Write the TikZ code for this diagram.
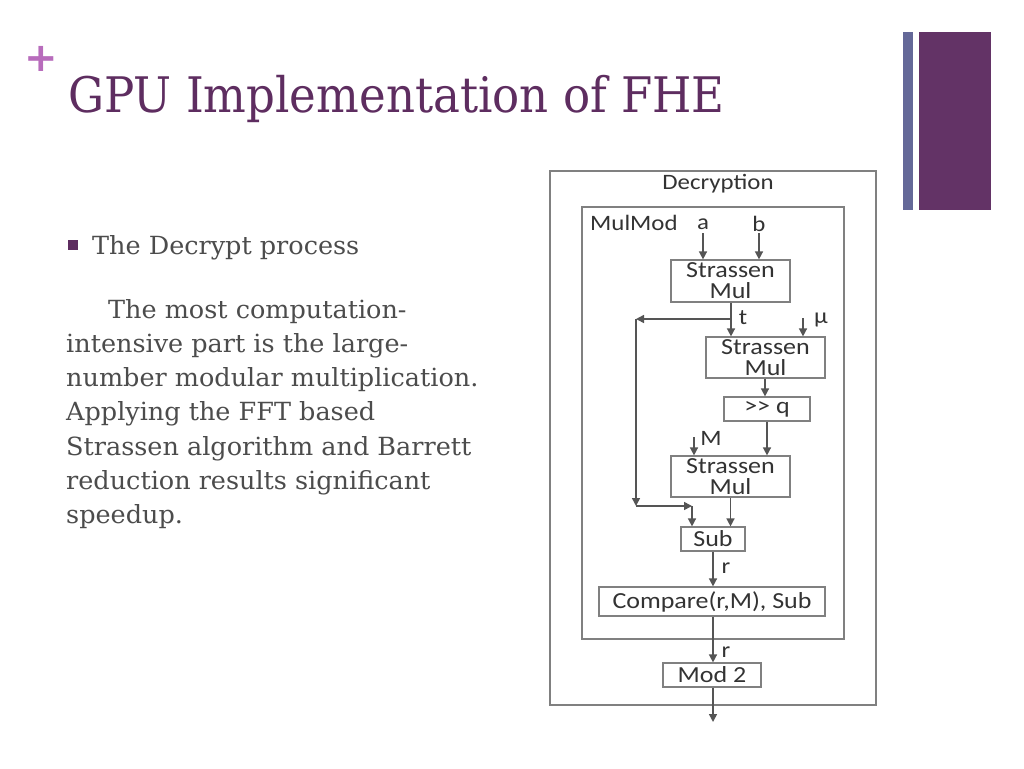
\documentclass[tikz,border=0pt]{standalone}
\usepackage{fontspec}
\usepackage{xcolor}
\usetikzlibrary{arrows.meta,positioning}
\newfontfamily\slidefont[FakeStretch=1.02]{DejaVu Serif}
\newfontfamily\titlefont[FakeStretch=0.92]{DejaVu Serif}
\newfontfamily\plusfont{DejaVu Sans}
\newfontfamily\diagfont[FakeStretch=1.13]{Carlito}
\definecolor{titlepurple}{HTML}{5E2D60}
\definecolor{blockpurple}{HTML}{633366}
\definecolor{barblue}{HTML}{646898}
\definecolor{pluspink}{HTML}{B86CBC}
\definecolor{bodygray}{HTML}{4C4C4C}
\definecolor{linegray}{HTML}{555555}
\definecolor{framegray}{HTML}{808080}
\tikzset{
  blockbox/.style={rectangle, draw=framegray, line width=1.2pt, inner sep=0pt, font=\diagfont\fontsize{23}{21}\selectfont, text=black!80, align=center},
  framebox/.style={rectangle, draw=framegray, line width=1.2pt, inner sep=0pt},
  flow/.style={draw=linegray, line width=1.5pt, -{Triangle[length=8pt,width=8pt]}},
  varlabel/.style={font=\diagfont\fontsize{22}{22}\selectfont, text=black!80, inner sep=0pt},
  bodyline/.style={anchor=base west, inner sep=0pt, font=\slidefont\fontsize{25}{25}\selectfont, text=bodygray}
}
\begin{document}
\begin{tikzpicture}[x=1pt,y=-1pt]
  \useasboundingbox[fill=white] (0,0) rectangle (1024,768);

  % slide decoration
  \fill[barblue] (903,32) rectangle (913,210);
  \fill[blockpurple] (919,32) rectangle (991,210);
  \node (plus) [text=pluspink, font=\plusfont\bfseries\fontsize{40}{40}\selectfont, inner sep=0pt] at (41,59) {+};
  \node (title) [anchor=base west, inner sep=0pt, text=titlepurple, font=\titlefont\fontsize{49}{49}\selectfont] at (68,112) {GPU Implementation of FHE};

  % text
  \fill[titlepurple] (68,240) rectangle (78,250);
  \node (bullet) [bodyline] at (92,254) {The Decrypt process};
  \node (l1) [bodyline] at (108,318) {The most computation-};
  \node (l2) [bodyline] at (66,352) {intensive part is the large-};
  \node (l3) [bodyline] at (66,386) {number modular multiplication.};
  \node (l4) [bodyline] at (66,420) {Applying the FFT based};
  \node (l5) [bodyline] at (66,455) {Strassen algorithm and Barrett};
  \node (l6) [bodyline] at (66,489) {reduction results significant};
  \node (l7) [bodyline] at (66,523) {speedup.};

  % frames
  \node (decbox) [framebox, minimum width=326, minimum height=534] at (713,438) {};
  \node (decname) [varlabel] at (718,184) {Decryption};
  \node (mulbox) [framebox, minimum width=262, minimum height=432] at (713,423) {};
  \node (mulname) [varlabel, anchor=west] at (590,223) {MulMod};

  % blocks
  \node (smul1) [blockbox, minimum width=119, minimum height=42] at (730.5,281) {Strassen\\Mul};
  \node (smul2) [blockbox, minimum width=119, minimum height=41] at (765.5,357.5) {Strassen\\Mul};
  \node (shiftq) [blockbox, minimum width=86, minimum height=24] at (767,409) {>> q};
  \node (smul3) [blockbox, minimum width=119, minimum height=41] at (730.5,476.5) {Strassen\\Mul};
  \node (sub) [blockbox, minimum width=64, minimum height=24] at (713,539) {Sub};
  \node (cmp) [blockbox, minimum width=226, minimum height=29] at (712,601.5) {Compare(r,M), Sub};
  \node (mod2) [blockbox, minimum width=98, minimum height=24] at (712,675) {Mod 2};

  % inputs and labels
  \node (ina) [varlabel] at (703,224) {a};
  \node (inb) [varlabel] at (759,224) {b};
  \node (tlab) [varlabel] at (743,318) {t};
  \node (mulab) [varlabel] at (821,320) {μ};
  \node (mlab) [varlabel] at (711,438) {M};
  \node (rlab1) [varlabel] at (726,568) {r};
  \node (rlab2) [varlabel] at (726,652) {r};
  \coordinate (ain) at (703,233);
  \coordinate (bin) at (759,233);
  \coordinate (muin) at (803,318);
  \coordinate (min) at (694,437);
  \coordinate (tsplit) at (731,319);
  \coordinate (tleft) at (636,319);
  \coordinate (tdown) at (636,506);
  \coordinate (tright) at (692,506);
  \coordinate (out) at (713,722);

  % connectors
  \draw[flow] (ain) -- (ain |- smul1.north);
  \draw[flow] (bin) -- (bin |- smul1.north);
  \draw[flow] (tsplit |- smul1.south) -- (tsplit |- smul2.north);
  \draw[flow] (tsplit) -- (tleft);
  \draw[flow] (tleft) -- (tdown);
  \draw[flow] (tdown) -- (tright);
  \draw[flow] (tright) -- (tright |- sub.north);
  \draw[flow] (muin) -- (muin |- smul2.north);
  \draw[flow] (smul2.south -| 765,0) -- (765,0 |- shiftq.north);
  \draw[flow] (shiftq.south) -- (shiftq.south |- smul3.north);
  \draw[flow] (min) -- (min |- smul3.north);
  \draw[flow] (smul3.south) -- (smul3.south |- sub.north);
  \draw[flow] (sub.south) -- (sub.south |- cmp.north);
  \draw[flow] (sub.south |- cmp.south) -- (sub.south |- mod2.north);
  \draw[flow] (sub.south |- mod2.south) -- (out);
\end{tikzpicture}
\end{document}
